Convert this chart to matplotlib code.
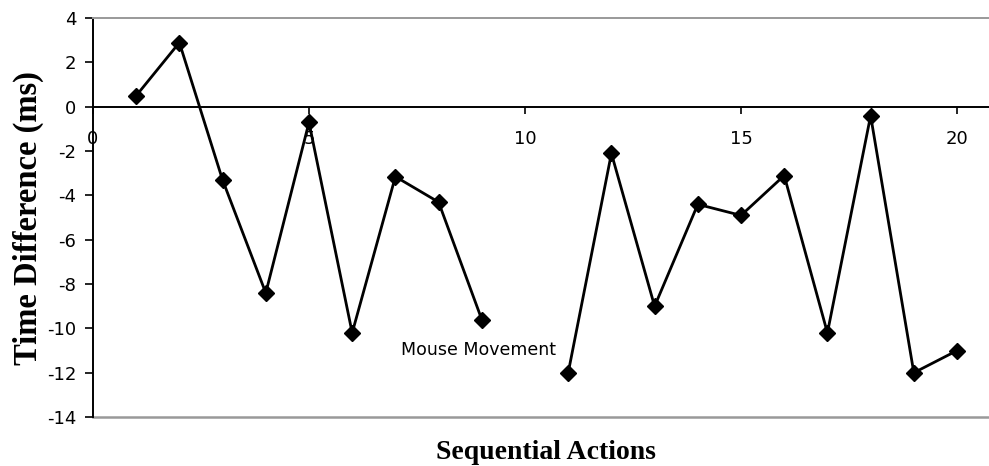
import numpy as np
import matplotlib.pyplot as plt

# Diferença de tempo por ação sequencial (ação 10 ausente -> quebra na linha)
actions = list(range(1, 21))
time_diff = [0.5, 2.9, -3.3, -8.4, -0.7, -10.2, -3.15, -4.3, -9.6, np.nan,
             -12.0, -2.1, -9.0, -4.4, -4.9, -3.1, -10.2, -0.4, -12.0, -11.0]
x_ticks = [0, 5, 10, 15, 20]
y_ticks = list(range(-14, 5, 2))
annot_text = "Mouse Movement"
annot_pos = (8.92, -10.97)

plt.rcParams["axes.unicode_minus"] = False

fig = plt.figure(figsize=(9.89, 4.66), dpi=100)
ax = fig.add_axes([0.094, 0.105, 0.906, 0.856])

ax.plot(actions, time_diff, color="black", linewidth=2.0,
        marker="D", markersize=8.5, markerfacecolor="black", clip_on=False)

ax.set_xlim(0, 20.74)
ax.set_ylim(-14, 4)

# eixo x cruzando em y = 0, moldura cinza em cima/embaixo
ax.spines["bottom"].set_position(("data", 0))
ax.spines["bottom"].set_linewidth(1.4)
ax.spines["left"].set_linewidth(1.4)
ax.spines["top"].set_color("#999999")
ax.spines["top"].set_linewidth(1.4)
ax.spines["right"].set_visible(False)
ax.axhline(-14, color="#999999", linewidth=1.8, clip_on=False)

ax.set_xticks(x_ticks)
ax.set_yticks(y_ticks)
ax.tick_params(axis="x", direction="out", length=5, width=1.2, pad=12, labelsize=13)
ax.tick_params(axis="y", direction="out", length=6, width=1.2, pad=6, labelsize=13)

ax.text(*annot_pos, annot_text, ha="center", va="center", fontsize=12.5)

ax.set_ylabel("Time Difference (ms)", family="Liberation Serif",
              fontweight="bold", fontsize=23.5, labelpad=2)
fig.text(0.552, 0.03, "Sequential Actions", family="Liberation Serif",
         fontweight="bold", fontsize=20, ha="center", va="center")

fig.savefig("out.png", dpi=100)
